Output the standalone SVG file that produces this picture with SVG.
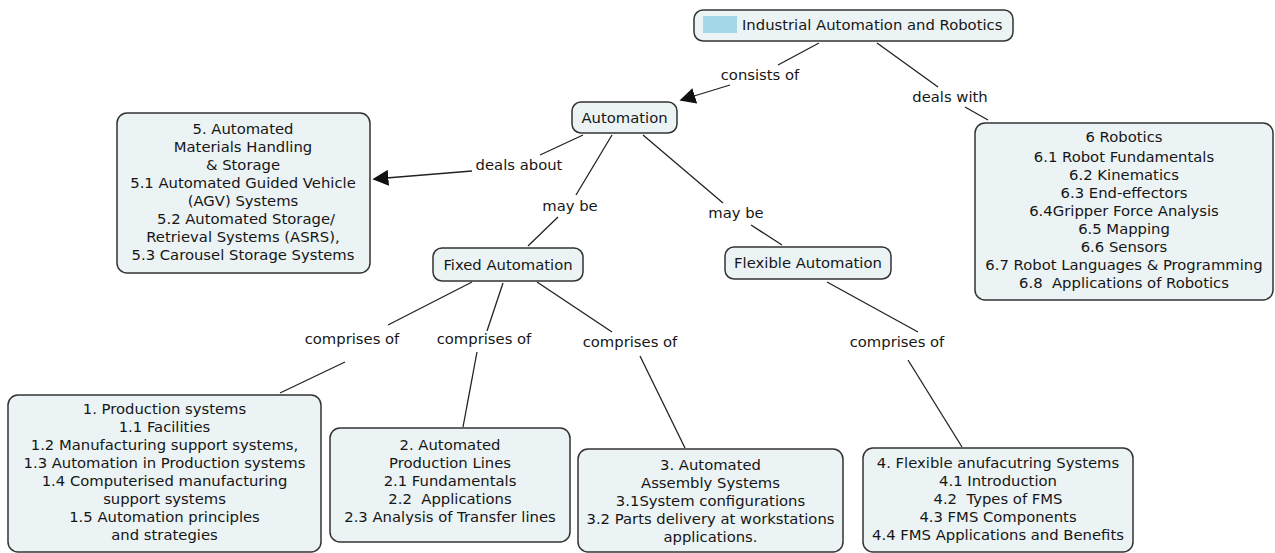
<svg xmlns="http://www.w3.org/2000/svg" width="1275" height="553" viewBox="0 0 1275 553">
  <style>
    .node rect.box { fill: #ebf3f5; stroke: #333333; stroke-width: 1.5; }
    text { font-family: "DejaVu Sans", Verdana, sans-serif; font-size: 14.8px; fill: #161616; }
    .c { text-anchor: middle; }
    .link { stroke: #222222; stroke-width: 1.3; fill: none; }
  </style>
  <defs>
    <marker id="arrow" viewBox="0 0 10 10" refX="9" refY="5" markerWidth="16" markerHeight="16" markerUnits="userSpaceOnUse" orient="auto">
      <path d="M0,0 L10,5 L0,10 z" fill="#111111"/>
    </marker>
  </defs>
  <rect width="1275" height="553" fill="#ffffff"/>

  <g id="connectors">
    <!-- root to Automation -->
    <line class="link" x1="819" y1="43" x2="778" y2="65"/>
    <line class="link" x1="730" y1="85" x2="681" y2="100" marker-end="url(#arrow)"/>
    <!-- root to Robotics -->
    <line class="link" x1="877" y1="43" x2="938" y2="87"/>
    <line class="link" x1="965" y1="107" x2="988" y2="120"/>
    <!-- Automation to Materials Handling -->
    <line class="link" x1="583" y1="135" x2="540" y2="155"/>
    <line class="link" x1="472" y1="171" x2="374" y2="179" marker-end="url(#arrow)"/>
    <!-- Automation to Fixed -->
    <line class="link" x1="612" y1="135" x2="576" y2="195"/>
    <line class="link" x1="558" y1="217" x2="528" y2="246"/>
    <!-- Automation to Flexible -->
    <line class="link" x1="643" y1="135" x2="723" y2="203"/>
    <line class="link" x1="751" y1="225" x2="782" y2="245"/>
    <!-- Fixed to Production systems -->
    <line class="link" x1="472" y1="282" x2="388" y2="325"/>
    <line class="link" x1="345" y1="362" x2="280" y2="393"/>
    <!-- Fixed to Production Lines -->
    <line class="link" x1="503" y1="283" x2="487" y2="331"/>
    <line class="link" x1="477" y1="352" x2="463" y2="427"/>
    <!-- Fixed to Assembly Systems -->
    <line class="link" x1="537" y1="282" x2="612" y2="332"/>
    <line class="link" x1="640" y1="356" x2="685" y2="448"/>
    <!-- Flexible to FMS -->
    <line class="link" x1="827" y1="282" x2="918" y2="332"/>
    <line class="link" x1="908" y1="360" x2="962" y2="447"/>

    <!-- link labels -->
    <text x="760" y="80" class="c">consists of</text>
    <text x="950" y="102" class="c">deals with</text>
    <text x="519" y="170" class="c">deals about</text>
    <text x="570" y="211" class="c">may be</text>
    <text x="736" y="218" class="c">may be</text>
    <text x="352" y="344" class="c">comprises of</text>
    <text x="484" y="344" class="c">comprises of</text>
    <text x="630" y="347" class="c">comprises of</text>
    <text x="897" y="347" class="c">comprises of</text>
  </g>

  <g id="n-root" class="node">
    <rect class="box" x="694" y="10" width="319" height="31" rx="9"/>
    <rect x="703" y="16" width="34" height="17" fill="#a3d8e8"/>
    <text x="742" y="30">Industrial Automation and Robotics</text>
  </g>

  <g id="n-automation" class="node">
    <rect class="box" x="572" y="102" width="105" height="31" rx="9"/>
    <text x="624.5" y="123" class="c">Automation</text>
  </g>

  <g id="n-materials" class="node">
    <rect class="box" x="117" y="113" width="253" height="160" rx="10"/>
    <text class="c"><tspan x="243" y="134">5. Automated</tspan><tspan x="243" y="152">Materials Handling</tspan><tspan x="243" y="170">&amp; Storage</tspan><tspan x="243" y="188">5.1 Automated Guided Vehicle</tspan><tspan x="243" y="206">(AGV) Systems</tspan><tspan x="246" y="224">5.2 Automated Storage/</tspan><tspan x="243" y="242">Retrieval Systems (ASRS),</tspan><tspan x="243" y="260">5.3 Carousel Storage Systems</tspan></text>
  </g>

  <g id="n-robotics" class="node">
    <rect class="box" x="975" y="123" width="298" height="177" rx="10"/>
    <text class="c"><tspan x="1124" y="142">6 Robotics</tspan><tspan x="1124" y="162">6.1 Robot Fundamentals</tspan><tspan x="1124" y="180">6.2 Kinematics</tspan><tspan x="1124" y="198">6.3 End-effectors</tspan><tspan x="1124" y="216">6.4Gripper Force Analysis</tspan><tspan x="1124" y="234">6.5 Mapping</tspan><tspan x="1124" y="252">6.6 Sensors</tspan><tspan x="1124" y="270">6.7 Robot Languages &amp; Programming</tspan><tspan x="1124" y="288">6.8&#160; Applications of Robotics</tspan></text>
  </g>

  <g id="n-fixed" class="node">
    <rect class="box" x="433" y="248" width="150" height="33" rx="9"/>
    <text x="508" y="270" class="c">Fixed Automation</text>
  </g>

  <g id="n-flexible" class="node">
    <rect class="box" x="725" y="247" width="166" height="32" rx="9"/>
    <text x="808" y="268" class="c">Flexible Automation</text>
  </g>

  <g id="n-production" class="node">
    <rect class="box" x="8" y="395" width="313" height="157" rx="10"/>
    <text class="c"><tspan x="164.5" y="414">1. Production systems</tspan><tspan x="164.5" y="432">1.1 Facilities</tspan><tspan x="164.5" y="450">1.2 Manufacturing support systems,</tspan><tspan x="164.5" y="468">1.3 Automation in Production systems</tspan><tspan x="164.5" y="486">1.4 Computerised manufacturing</tspan><tspan x="164.5" y="504">support systems</tspan><tspan x="164.5" y="522">1.5 Automation principles</tspan><tspan x="164.5" y="540">and strategies</tspan></text>
  </g>

  <g id="n-lines" class="node">
    <rect class="box" x="330" y="428" width="240" height="114" rx="10"/>
    <text class="c"><tspan x="450" y="450">2. Automated</tspan><tspan x="450" y="468">Production Lines</tspan><tspan x="450" y="486">2.1 Fundamentals</tspan><tspan x="450" y="504">2.2&#160; Applications</tspan><tspan x="450" y="522">2.3 Analysis of Transfer lines</tspan></text>
  </g>

  <g id="n-assembly" class="node">
    <rect class="box" x="578" y="449" width="265" height="103" rx="10"/>
    <text class="c"><tspan x="710.5" y="470">3. Automated</tspan><tspan x="710.5" y="488">Assembly Systems</tspan><tspan x="710.5" y="506">3.1System configurations</tspan><tspan x="710.5" y="524">3.2 Parts delivery at workstations</tspan><tspan x="710.5" y="542">applications.</tspan></text>
  </g>

  <g id="n-fms" class="node">
    <rect class="box" x="863" y="448" width="270" height="104" rx="10"/>
    <text class="c"><tspan x="998" y="468">4. Flexible anufacutring Systems</tspan><tspan x="998" y="486">4.1 Introduction</tspan><tspan x="998" y="504">4.2&#160; Types of FMS</tspan><tspan x="998" y="522">4.3 FMS Components</tspan><tspan x="998" y="540">4.4 FMS Applications and Benefits</tspan></text>
  </g>
</svg>
